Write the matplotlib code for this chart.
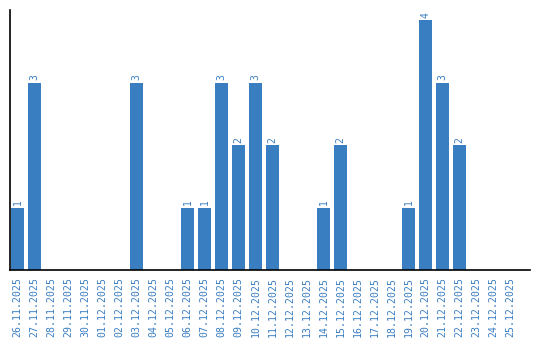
import pandas as pd
import matplotlib
matplotlib.use("Agg")
import matplotlib.pyplot as plt

dates = pd.date_range("2025-11-26", "2025-12-25", freq="D")
labels = [d.strftime("%d.%m.%Y") for d in dates]
counts_by_day = {
    "26.11.2025": 1, "27.11.2025": 3, "03.12.2025": 3, "06.12.2025": 1,
    "07.12.2025": 1, "08.12.2025": 3, "09.12.2025": 2, "10.12.2025": 3,
    "11.12.2025": 2, "14.12.2025": 1, "15.12.2025": 2, "19.12.2025": 1,
    "20.12.2025": 4, "21.12.2025": 3, "22.12.2025": 2,
}
counts = [counts_by_day.get(l, 0) for l in labels]

blue = "#3a7ec2"
plt.rcParams["font.family"] = "DejaVu Sans Mono"

fig = plt.figure(figsize=(5.4, 3.4), dpi=100)
ax = fig.add_axes([10 / 540, 70 / 340, 520 / 540, 260 / 340])
x = list(range(len(labels)))
ax.bar(x, counts, width=0.78, color=blue)
for xi, c in zip(x, counts):
    if c > 0:
        ax.text(xi, c + 0.04, str(c), rotation=90, ha="center", va="bottom",
                color=blue, fontsize=7)

ax.set_xlim(-0.44, 30.15)
ax.set_ylim(0, 4.16)
ax.set_xticks(x)
ax.set_xticklabels(labels, rotation=90, color=blue, fontsize=7.1)
ax.set_yticks([])
ax.tick_params(axis="x", length=0, pad=5)
ax.spines["top"].set_visible(False)
ax.spines["right"].set_visible(False)
ax.spines["left"].set_linewidth(1.2)
ax.spines["bottom"].set_linewidth(1.2)

fig.savefig("out.png", dpi=100)
